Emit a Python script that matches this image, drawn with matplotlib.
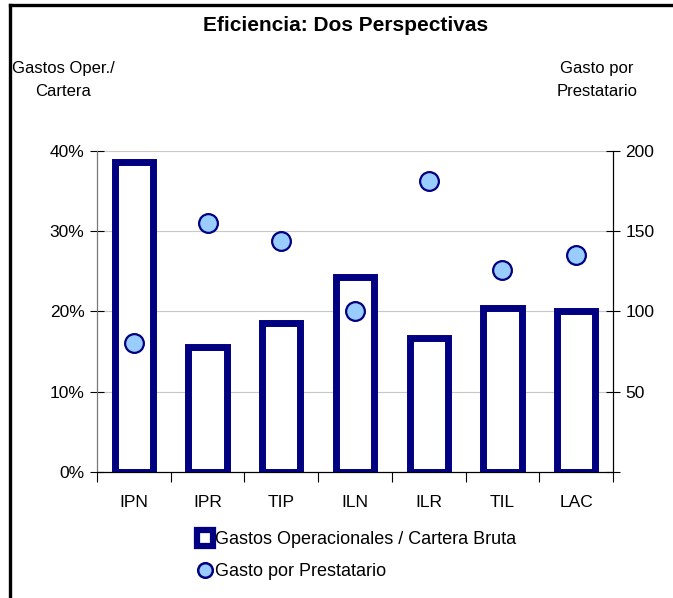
import matplotlib
matplotlib.use("Agg")
import matplotlib.pyplot as plt
from matplotlib.lines import Line2D
import numpy as np

plt.rcParams['font.family'] = ['Liberation Sans', 'DejaVu Sans']

categories = ['IPN', 'IPR', 'TIP', 'ILN', 'ILR', 'TIL', 'LAC']
gastos_cartera = [38.6, 15.6, 18.5, 24.3, 16.7, 20.4, 20.0]   # %
gasto_prestatario = [80, 155, 144, 100, 181, 126, 135]

navy = '#000080'
light_blue = '#99CCFF'

fig = plt.figure(figsize=(6.73, 5.98), dpi=100)
ax = fig.add_axes([0.144, 0.211, 0.767, 0.537])
ax2 = ax.twinx()

x = np.arange(len(categories))
ax.bar(x, gastos_cartera, width=0.52, color='white', edgecolor=navy, linewidth=5, zorder=3)
ax.set_ylim(0, 40)
ax.set_xlim(-0.5, len(categories) - 0.5)
ax.set_yticks([0, 10, 20, 30, 40])
ax.set_yticklabels([f'{v}%' for v in [0, 10, 20, 30, 40]])
ax.yaxis.grid(True, color='#c8c8c8', linewidth=0.8, zorder=0)
ax.set_axisbelow(True)

# category ticks between the bars
ax.set_xticks(x)
ax.set_xticklabels(categories)
ax.tick_params(axis='x', length=0, pad=17, labelsize=12.5)
ax.set_xticks(np.arange(-0.5, len(categories) + 0.5, 1), minor=True)
ax.tick_params(axis='x', which='minor', length=7, direction='out', width=0.8)
ax.tick_params(axis='y', direction='inout', length=10, width=0.8, labelsize=12.5, pad=4)

ax2.plot(x, gasto_prestatario, linestyle='none', marker='o', markersize=13.5,
         markerfacecolor=light_blue, markeredgecolor=navy, markeredgewidth=1.6, zorder=4)
ax2.set_ylim(0, 200)
ax2.set_yticks([50, 100, 150, 200])
ax2.tick_params(axis='y', direction='inout', length=10, width=0.8, labelsize=12.5, pad=4)
ax2.set_yticks([0], minor=True)
ax2.tick_params(axis='y', which='minor', direction='inout', length=10, width=0.8)

for a in (ax, ax2):
    a.spines['top'].set_visible(False)
    a.spines['left'].set_color('#777777')
    a.spines['right'].set_color('black')
    a.spines['bottom'].set_color('black')
ax2.set_zorder(ax.get_zorder() + 1)

fig.text(0.513, 0.958, 'Eficiencia: Dos Perspectivas', ha='center', va='center',
         fontsize=15, fontweight='bold')
fig.text(0.094, 0.866, 'Gastos Oper./\nCartera', ha='center', va='center',
         fontsize=12, linespacing=1.65)
fig.text(0.887, 0.866, 'Gasto por\nPrestatario', ha='center', va='center',
         fontsize=12, linespacing=1.65)

handles = [
    Line2D([], [], linestyle='none', marker='s', markersize=12, markerfacecolor='white',
           markeredgecolor=navy, markeredgewidth=4.5),
    Line2D([], [], linestyle='none', marker='o', markersize=10.5, markerfacecolor=light_blue,
           markeredgecolor=navy, markeredgewidth=1.8),
]
fig.legend(handles, ['Gastos Operacionales / Cartera Bruta', 'Gasto por Prestatario'],
           loc='center', bbox_to_anchor=(0.53, 0.071), frameon=False, fontsize=13,
           handlelength=0.8, handletextpad=0.15, labelspacing=0.85)

# outer border of the chart
fig.add_artist(Line2D([0.0155, 0.0155], [0, 0.992], color='black', linewidth=2.4, transform=fig.transFigure))
fig.add_artist(Line2D([0.0155, 1], [0.992, 0.992], color='black', linewidth=2.4, transform=fig.transFigure))

fig.savefig('out.png', dpi=100)
